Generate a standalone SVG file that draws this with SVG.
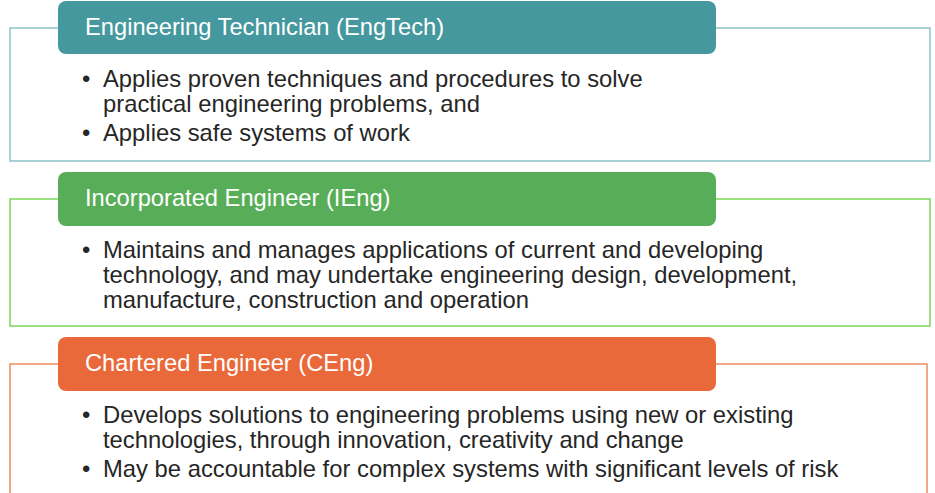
<svg xmlns="http://www.w3.org/2000/svg" width="935" height="493" viewBox="0 0 935 493">
<style>
.title{font-family:"Liberation Sans",Arial,sans-serif;font-size:23.7px;fill:#ffffff}
.body{font-family:"Liberation Sans",Arial,sans-serif;font-size:23.8px;fill:#262626}
.frame{fill:#ffffff;stroke-width:1.5}
</style>
<rect width="935" height="493" fill="#ffffff"/>
<g id="engtech">
<rect class="frame" x="10" y="28" width="920" height="133" stroke="#8CC3C7"/>
<rect x="58" y="1" width="658" height="53" rx="8" fill="#45989E"/>
<text class="title" x="85" y="35">Engineering Technician (EngTech)</text>
<text class="body" x="82" y="87">•</text>
<text class="body" x="103" y="87">Applies proven techniques and procedures to solve</text>
<text class="body" x="103" y="112">practical engineering problems, and</text>
<text class="body" x="82" y="141">•</text>
<text class="body" x="103" y="141">Applies safe systems of work</text>
</g>
<g id="ieng">
<rect class="frame" x="10" y="199" width="920" height="127" stroke="#7DD65A"/>
<rect x="58" y="172" width="658" height="54" rx="8" fill="#58AE58"/>
<text class="title" x="85" y="206">Incorporated Engineer (IEng)</text>
<text class="body" x="82" y="258">•</text>
<text class="body" x="103" y="258">Maintains and manages applications of current and developing</text>
<text class="body" x="103" y="283">technology, and may undertake engineering design, development,</text>
<text class="body" x="103" y="308">manufacture, construction and operation</text>
</g>
<g id="ceng">
<rect class="frame" x="10" y="364" width="917" height="140" stroke="#F08C5E"/>
<rect x="58" y="337" width="658" height="54" rx="8" fill="#E9693A"/>
<text class="title" x="85" y="371">Chartered Engineer (CEng)</text>
<text class="body" x="82" y="423">•</text>
<text class="body" x="103" y="423">Develops solutions to engineering problems using new or existing</text>
<text class="body" x="103" y="448">technologies, through innovation, creativity and change</text>
<text class="body" x="82" y="477">•</text>
<text class="body" x="103" y="477">May be accountable for complex systems with significant levels of risk</text>
</g>
<g id="connectors"/>
</svg>
